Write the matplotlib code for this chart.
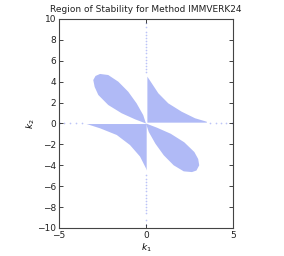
import matplotlib
matplotlib.use("Agg")
import matplotlib.pyplot as plt

# boundaries of the stable regions (k1, k2)
lobe_ul_k1 = [0.0, -0.16, -0.54, -1.02, -1.59, -2.17, -2.64, -2.9, -3.03, -2.95, -2.74, -2.17, -1.4, -0.63, 0.0]
lobe_ul_k2 = [0.0, 0.81, 1.93, 3.04, 4.0, 4.64, 4.74, 4.55, 4.16, 3.5, 2.73, 1.77, 0.98, 0.4, 0.0]

lobe_lr_k1 = [0.0, 0.16, 0.54, 1.02, 1.59, 2.17, 2.64, 2.9, 3.06, 3.0, 2.78, 2.2, 1.42, 0.63, 0.0]
lobe_lr_k2 = [0.0, -0.81, -1.93, -3.04, -4.0, -4.58, -4.65, -4.5, -4.0, -3.4, -2.73, -1.8, -0.98, -0.4, 0.0]

wedge_ur_k1 = [0.08, 0.08, 0.33, 0.71, 1.28, 2.05, 2.82, 3.49, 3.5, 0.08]
wedge_ur_k2 = [0.08, 4.48, 3.85, 2.89, 1.93, 1.13, 0.5, 0.17, 0.08, 0.08]

wedge_ll_k1 = [0.04, -3.41, -2.64, -1.68, -0.92, -0.34, 0.0, 0.04, 0.04]
wedge_ll_k2 = [-0.05, -0.05, -0.46, -1.1, -2.06, -3.17, -4.29, -4.5, -0.05]

# scattered stable points along the axes
axis_v_k2 = [9.6, 9.2, 8.8, 8.5, 8.2, 7.9, 7.6, 7.3, 7.0, 6.7, 6.4, 6.1, 5.8, 5.5, 5.2, 4.9,
             -4.9, -5.3, -5.6, -5.9, -6.2, -6.5, -6.8, -7.1, -7.4, -7.7, -8.0, -8.3, -8.6, -9.2, -9.7]
axis_h_k1 = [3.7, 4.0, 4.3, 4.6, 4.95, -3.7, -4.0, -4.35, -4.7, -4.95]

fill_col = '#b0baf6'

fig = plt.figure(figsize=(2.84, 2.56), dpi=100)
ax = fig.add_axes([0.2077, 0.1094, 0.6127, 0.8164])

for xs, ys in [(lobe_ul_k1, lobe_ul_k2), (lobe_lr_k1, lobe_lr_k2),
               (wedge_ur_k1, wedge_ur_k2), (wedge_ll_k1, wedge_ll_k2)]:
    ax.fill(xs, ys, color=fill_col, lw=0)

ax.scatter([0.0] * len(axis_v_k2), axis_v_k2, s=1.5, color='#bcc4f7', lw=0)
ax.scatter(axis_h_k1, [0.0] * len(axis_h_k1), s=1.5, color='#bcc4f7', lw=0)

ax.set_xlim(-5, 5)
ax.set_ylim(-10, 10)
ax.set_xticks([-5, 0, 5])
ax.set_yticks(range(-10, 11, 2))
ax.tick_params(direction='in', length=3, width=0.6, labelsize=6.5, top=True, right=True, pad=2, colors='#222222')
for s in ax.spines.values():
    s.set_linewidth(0.8)
    s.set_color('#444444')

ax.set_title('Region of Stability for Method IMMVERK24', fontsize=6.5, pad=5, color='#222222')
ax.set_xlabel('$k_1$', fontsize=6.5, labelpad=1)
ax.set_ylabel('$k_2$', fontsize=6.5, labelpad=0)

fig.savefig('out.png', dpi=100)
